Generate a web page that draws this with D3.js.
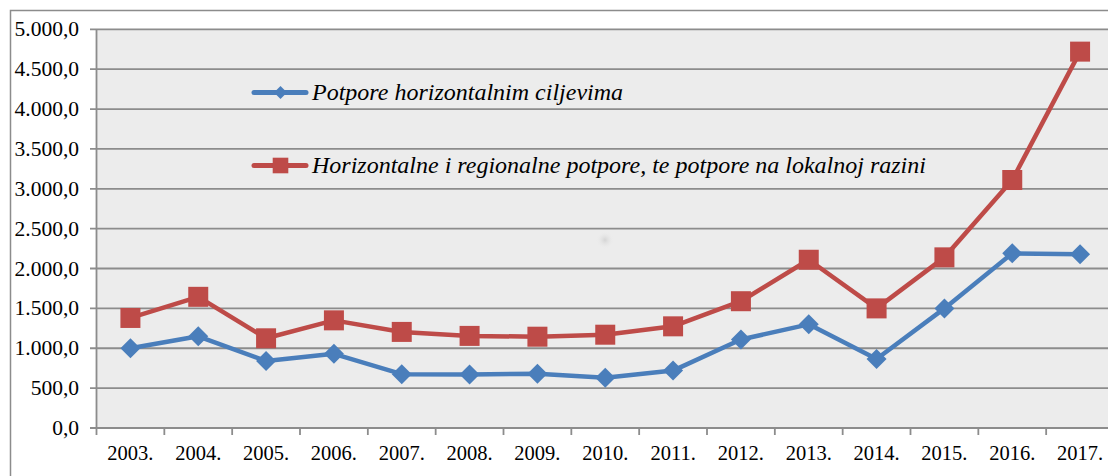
<!DOCTYPE html>
<html>
<head>
<meta charset="utf-8">
<script src="https://cdn.jsdelivr.net/npm/d3@7"></script>
<style>
body{margin:0;background:#fff;}
svg{display:block;}
</style>
</head>
<body>
<div id="chart"></div>
<script>
const godine = ["2003.","2004.","2005.","2006.","2007.","2008.","2009.","2010.","2011.","2012.","2013.","2014.","2015.","2016.","2017."];
const horizontalni = [1000,1150,840,930,675,670,680,630,720,1110,1300,865,1500,2190,2180];
const regionalni = [1380,1645,1125,1350,1205,1155,1145,1170,1275,1590,2110,1500,2140,3110,4720];
const yTicks = [0,500,1000,1500,2000,2500,3000,3500,4000,4500,5000];
const nazivi = ["Potpore horizontalnim ciljevima","Horizontalne i regionalne potpore, te potpore na lokalnoj razini"];

const width = 1108;
const height = 476;
const font = "\"Liberation Serif\"";

const svg = d3.select("#chart")
.append("svg")
.attr("width",width)
.attr("height",height);

// okvir
svg.append("rect")
.attr("x",10.5)
.attr("y",10.5)
.attr("width",1110)
.attr("height",480)
.attr("fill","#fff")
.attr("stroke","#8c8c8c")
.attr("stroke-width",1.5);

const x = d3.scaleBand()
.domain(godine)
.range([96.5,1114]);

const y = d3.scaleLinear()
.domain([0,5000])
.range([428,29.3]);

// pozadina
svg.append("rect")
.attr("x",96.5)
.attr("y",y(5000))
.attr("width",1114-96.5)
.attr("height",y(0)-y(5000))
.attr("fill","#ececec");

// mrlja
const grad = svg.append("defs")
.append("radialGradient")
.attr("id","mrlja");
grad.append("stop").attr("offset","0%").attr("stop-color","#d4d4d4");
grad.append("stop").attr("offset","100%").attr("stop-color","#ececec").attr("stop-opacity",0);

svg.append("circle")
.attr("cx",605)
.attr("cy",240)
.attr("r",9)
.attr("fill","url(#mrlja)");

// mreza
svg.append("g")
.selectAll("line")
.data(yTicks)
.enter()
.append("line")
.attr("x1",90)
.attr("x2",1114)
.attr("y1",d=>y(d))
.attr("y2",d=>y(d))
.attr("stroke","#8c8c8c")
.attr("stroke-width",1.8);

// y os
svg.append("line")
.attr("x1",96.5).attr("x2",96.5)
.attr("y1",y(5000)).attr("y2",435)
.attr("stroke","#8c8c8c")
.attr("stroke-width",1.8);

svg.append("g")
.selectAll("text")
.data(yTicks)
.enter()
.append("text")
.attr("x",79)
.attr("y",d=>y(d)+7)
.attr("text-anchor","end")
.style("font-family",font)
.style("font-size","21.5px")
.attr("fill","#000")
.text(d=>d3.format(",.1f")(d).replace(/,/g,"#").replace(".",",").replace(/#/g,"."));

// x os
svg.append("g")
.selectAll("line")
.data(godine)
.enter()
.append("line")
.attr("x1",d=>x(d)+x.bandwidth())
.attr("x2",d=>x(d)+x.bandwidth())
.attr("y1",428)
.attr("y2",435)
.attr("stroke","#8c8c8c")
.attr("stroke-width",1.8);

svg.append("g")
.selectAll("text")
.data(godine)
.enter()
.append("text")
.attr("x",d=>x(d)+x.bandwidth()/2)
.attr("y",460)
.attr("text-anchor","middle")
.style("font-family",font)
.style("font-size","20.5px")
.attr("fill","#000")
.text(d=>d);

const serije = [
{naziv:nazivi[0],vrijednosti:horizontalni,boja:"#4a7ebb",oblik:"diamond"},
{naziv:nazivi[1],vrijednosti:regionalni,boja:"#be4b48",oblik:"square"}
];

const linija = d3.line()
.x((d,i)=>x(godine[i])+x.bandwidth()/2)
.y(d=>y(d));

function marker(g,oblik,cx,cy,s,boja){
if(oblik==="diamond"){
g.append("path")
.attr("d",`M${cx},${cy-s} L${cx+s},${cy} L${cx},${cy+s} L${cx-s},${cy} Z`)
.attr("fill",boja);
}else{
g.append("rect")
.attr("x",cx-s)
.attr("y",cy-s)
.attr("width",2*s)
.attr("height",2*s)
.attr("fill",boja);
}
}

serije.forEach(s=>{
svg.append("path")
.datum(s.vrijednosti)
.attr("d",linija)
.attr("fill","none")
.attr("stroke",s.boja)
.attr("stroke-width",4.5)
.attr("stroke-linejoin","round");
const g = svg.append("g");
s.vrijednosti.forEach((v,i)=>{
marker(g,s.oblik,x(godine[i])+x.bandwidth()/2,y(v),10,s.boja);
});
});

// legenda
const legY = [92.5,165.5];
serije.forEach((s,i)=>{
const g = svg.append("g");
g.append("line")
.attr("x1",254).attr("x2",306)
.attr("y1",legY[i]).attr("y2",legY[i])
.attr("stroke",s.boja)
.attr("stroke-width",5)
.attr("stroke-linecap","round");
marker(g,s.oblik,280.5,legY[i],s.oblik==="diamond"?6.5:7.8,s.boja);
g.append("text")
.attr("x",312)
.attr("y",legY[i]+7.5)
.style("font-family",font)
.style("font-style","italic")
.style("font-size","24px")
.attr("fill","#000")
.text(s.naziv);
});
</script>
</body>
</html>
